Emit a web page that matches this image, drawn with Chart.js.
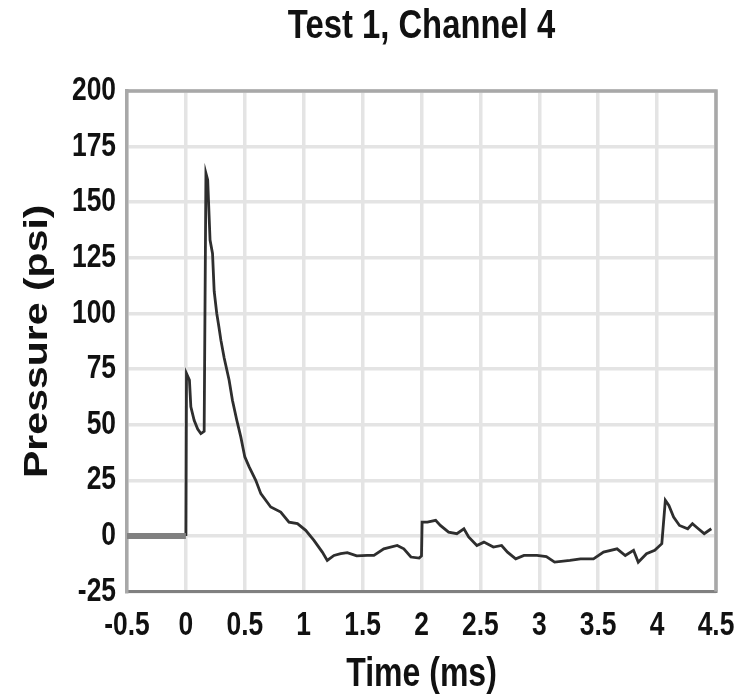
<!DOCTYPE html>
<html>
<head>
<meta charset="utf-8">
<script src="https://cdn.jsdelivr.net/npm/chart.js@4"></script>
<style>
  html, body { margin: 0; padding: 0; background: #fff; }
  #wrap { width: 736px; height: 698px; }
</style>
</head>
<body>
<div id="wrap"><canvas id="chart" width="736" height="698"></canvas></div>
<script>
// ── Data ────────────────────────────────────────────────────────────
const baseTimes = [-0.5, 0];
const basePsi   = [0, 0];

const times = [0, 0.005, 0.03, 0.042, 0.07, 0.10, 0.127, 0.155, 0.17, 0.185, 0.205, 0.226, 0.24, 0.262, 0.28,
  0.297, 0.325, 0.367, 0.395, 0.432, 0.466, 0.50, 0.537, 0.593, 0.636, 0.72, 0.805, 0.875, 0.947, 1.017,
  1.087, 1.158, 1.20, 1.257, 1.314, 1.37, 1.45, 1.54, 1.596, 1.68, 1.794, 1.85, 1.91, 1.98, 2.0, 2.005,
  2.05, 2.12, 2.16, 2.23, 2.30, 2.36, 2.40, 2.47, 2.53, 2.61, 2.68, 2.73, 2.80, 2.87, 2.98, 3.06, 3.13,
  3.26, 3.35, 3.46, 3.545, 3.66, 3.73, 3.80, 3.84, 3.91, 3.98, 4.04, 4.07, 4.10, 4.14, 4.19, 4.26, 4.30,
  4.35, 4.40, 4.46];
const psi = [0, 73, 70, 58, 52, 48, 46, 47, 163, 160, 133, 127, 110, 100, 94,
  88, 80, 70, 61, 52, 44.5, 35.5, 31, 25, 19, 13, 10.7, 6.2, 5.5, 2.5,
  -2, -7.3, -11, -8.8, -8, -7.5, -9, -8.8, -8.8, -5.8, -4.3, -5.8, -9.5, -10, -9, 6.2,
  6.2, 7, 4.7, 1.7, 1, 3.2, -0.5, -4.3, -2.8, -5, -4.3, -7.3, -10.3, -8.8, -8.8, -9.3, -11.8,
  -11, -10.3, -10.3, -7.3, -5.8, -8.8, -6.5, -11.8, -8, -6.5, -3.5, 16, 13.7, 8.5, 4.7, 3.2, 5.5,
  3.2, 1, 3.2];

const xMin = -0.5, xMax = 4.5, xStep = 0.5;
const yMin = -25, yMax = 200, yStep = 25;

const chartTitle = 'Test 1, Channel 4';
const font = "'Liberation Sans', Arial, sans-serif";
const textColor = '#111';
const squeeze = 0.8;   // the reference's lettering is condensed

const pts = (xs, ys) => xs.map((x, i) => ({ x, y: ys[i] }));

const canvas = document.getElementById('chart');
const ctx = canvas.getContext('2d');

// condense every glyph run around its anchor (across the text, for rotated runs)
const plainFill = ctx.fillText.bind(ctx);
ctx.fillText = function (text, x, y) {
  const m = this.getTransform();
  this.save();
  this.translate(x, y);
  if (Math.abs(m.b) > 0.5) this.scale(1, squeeze); else this.scale(squeeze, 1);
  plainFill(text, 0, 0);
  this.restore();
};

// top/right frame lines, and the title centred over the plot
const frame = {
  id: 'frame',
  beforeDatasetsDraw(chart) {
    const { ctx, chartArea: a } = chart;
    ctx.save();
    ctx.strokeStyle = '#a8a8a8';
    ctx.lineWidth = 3.5;
    ctx.beginPath();
    ctx.moveTo(a.left, a.top);
    ctx.lineTo(a.right, a.top);
    ctx.lineTo(a.right, a.bottom);
    ctx.stroke();
    ctx.restore();
  },
  afterDraw(chart) {
    const { ctx, chartArea: a } = chart;
    ctx.save();
    ctx.fillStyle = textColor;
    ctx.font = 'bold 41px ' + font;
    ctx.textAlign = 'center';
    ctx.textBaseline = 'alphabetic';
    ctx.fillText(chartTitle, (a.left + a.right) / 2, 38);
    ctx.restore();
  }
};

new Chart(ctx, {
  type: 'line',
  data: {
    datasets: [
      { data: pts(baseTimes, basePsi), borderColor: '#808080', borderWidth: 6, pointRadius: 0, tension: 0 },
      { data: pts(times, psi), borderColor: '#2e2e2e', borderWidth: 2.8, pointRadius: 0, tension: 0 },
    ]
  },
  options: {
    responsive: false,
    animation: false,
    layout: { padding: { left: 0, right: 20, top: 91, bottom: 0 } },
    plugins: {
      legend: { display: false },
      tooltip: { enabled: false },
      title: { display: false }
    },
    scales: {
      x: {
        type: 'linear', min: xMin, max: xMax,
        afterFit: s => { s.height = 698 - 591.5; s.paddingLeft = 0; s.paddingRight = 0; },
        grid: { color: '#e4e4e4', lineWidth: 3.5, drawTicks: false },
        border: { color: '#808080', width: 3 },
        ticks: {
          stepSize: xStep, autoSkip: false, maxRotation: 0, padding: 15,
          color: textColor, font: { family: font, size: 33, weight: 'bold' },
          callback: v => String(Math.round(v * 10) / 10)
        },
        title: {
          display: true, text: 'Time (ms)', color: textColor,
          font: { family: font, size: 40, weight: 'bold', lineHeight: 1.0 }, padding: { top: 0, bottom: 3 }
        }
      },
      y: {
        min: yMin, max: yMax,
        afterFit: s => { s.width = 127; },
        grid: { color: '#e4e4e4', lineWidth: 3.5, drawTicks: false },
        border: { color: '#a8a8a8', width: 3.5 },
        ticks: {
          stepSize: yStep, padding: 11,
          color: textColor, font: { family: font, size: 33, weight: 'bold' }
        },
        title: {
          display: true, text: 'Pressure (psi)', color: textColor,
          font: { family: font, size: 41, weight: 'bold', lineHeight: 1.0 }, padding: { top: 17, bottom: 0 }
        }
      }
    }
  },
  plugins: [frame]
});
</script>
</body>
</html>
